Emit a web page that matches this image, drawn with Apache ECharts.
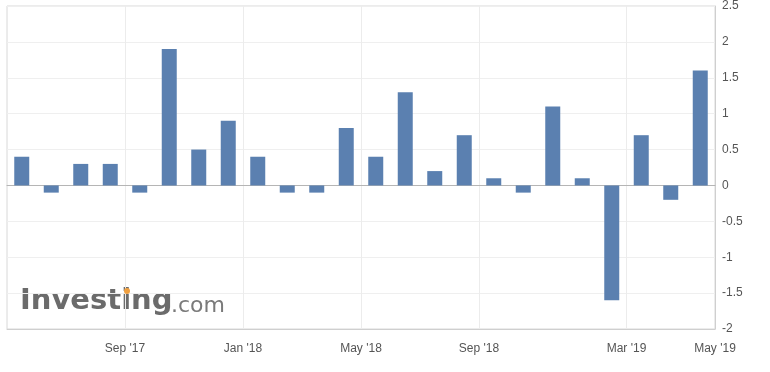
<!DOCTYPE html>
<html>
<head>
<meta charset="utf-8">
<script src="https://cdn.jsdelivr.net/npm/echarts@6/dist/echarts.min.js"></script>
<style>html,body{margin:0;padding:0;background:#fff;}#c{width:770px;height:372px;}</style>
</head>
<body>
<div id="c"></div>
<script>
// Bars (one per release)
var categories = ["May '17","Jun '17","Jul '17","Aug '17","Sep '17","Oct '17","Nov '17","Dec '17",
  "Jan '18","Feb '18","Mar '18","Apr '18","May '18","Jun '18","Jul '18","Aug '18",
  "Sep '18","Oct '18","Nov '18","Dec '18","Feb '19","Mar '19","Apr '19","May '19"];
var values = [0.4,-0.1,0.3,0.3,-0.1,1.9,0.5,0.9,0.4,-0.1,-0.1,0.8,0.4,1.3,0.2,0.7,0.1,-0.1,1.1,0.1,-1.6,0.7,-0.2,1.6];
// Tick labels sitting on band boundaries (25 boundaries for 24 bars)
var boundaryLabels = ['','','','',"Sep '17",'','','',"Jan '18",'','','',"May '18",'','','',"Sep '18",'','','','',"Mar '19",'','',"May '19"];
var yTicks = {min: -2, max: 2.5, step: 0.5};

var chart = echarts.init(document.getElementById('c'));
var showIdx = function (i, v) { return boundaryLabels[i] !== ''; };
chart.setOption({
  animation: false,
  grid: {left: 7, right: 55, top: 5, bottom: 43, show: true, borderColor: '#d8d8d8', borderWidth: 1},
  xAxis: [
    {type: 'category', data: categories, boundaryGap: true,
     axisLine: {show: true, onZero: true, lineStyle: {color: '#b5b5b5'}},
     axisTick: {show: false}, axisLabel: {show: false}, splitLine: {show: false}},
    {type: 'category', data: boundaryLabels, boundaryGap: false, position: 'bottom',
     axisLine: {show: true, onZero: false, lineStyle: {color: '#cfcfcf'}},
     axisTick: {show: false},
     axisLabel: {show: true, interval: showIdx, color: '#555', fontSize: 12, margin: 14, fontFamily: 'Liberation Sans, Arial, sans-serif', showMaxLabel: true},
     splitLine: {show: true, interval: showIdx, lineStyle: {color: '#ececec'}}}
  ],
  yAxis: {type: 'value', position: 'right', min: yTicks.min, max: yTicks.max, interval: yTicks.step,
    axisLine: {show: true, lineStyle: {color: '#cfcfcf'}}, axisTick: {show: false},
    axisLabel: {color: '#555', fontSize: 12, margin: 7, fontFamily: 'Liberation Sans, Arial, sans-serif'},
    splitLine: {show: true, lineStyle: {color: '#efefef'}}},
  graphic: [
    {type: 'text', left: 20, top: 287, z: 0, silent: true,
     style: {text: 'Investing', fill: '#6b6b6b', fontSize: 29, fontWeight: 'bold', fontFamily: 'DejaVu Sans'}},
    {type: 'text', left: 171, top: 295, z: 0, silent: true,
     style: {text: '.com', fill: '#7a7a7a', fontSize: 22, fontFamily: 'DejaVu Sans'}},
    {type: 'circle', shape: {cx: 127, cy: 291, r: 3}, style: {fill: '#f0a040'}, silent: true, z: 1}
  ],
  series: [{type: 'bar', xAxisIndex: 0, data: values, barWidth: 15,
    itemStyle: {color: '#5b80b0'}, z: 3}]
});
</script>
</body>
</html>
